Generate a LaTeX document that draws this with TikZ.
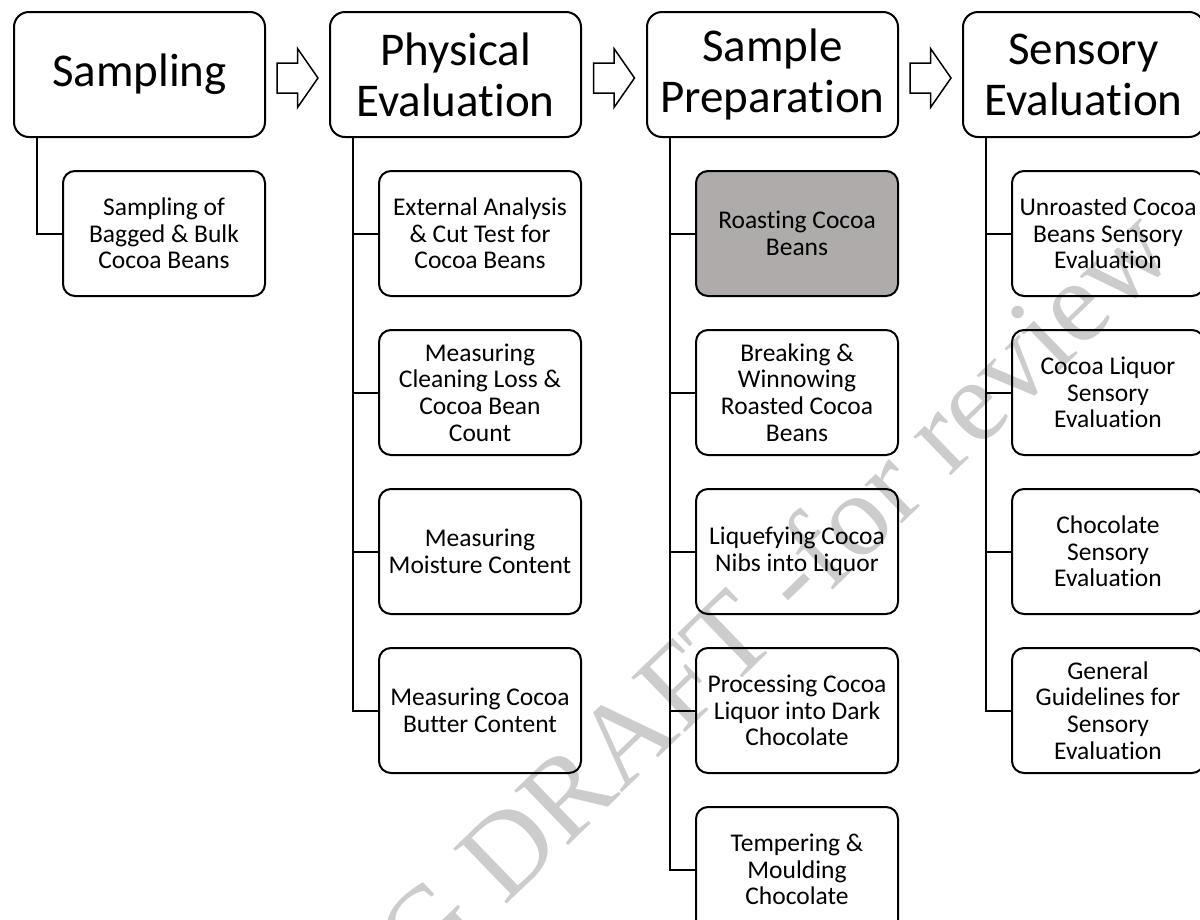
\documentclass[tikz,border=0pt]{standalone}
\usepackage{fontspec}
\setmainfont{Carlito}[Ligatures=NoCommon]
\newfontfamily\markfont{Liberation Serif}
\usetikzlibrary{calc, positioning}
\colorlet{linecolor}{black}
\definecolor{roastfill}{RGB}{175,171,171}
\tikzset{
  stage/.style={
    draw=linecolor,
    line width=2pt,
    rounded corners=15pt,
    minimum width=251pt,
    minimum height=125pt,
    inner sep=0pt,
    align=center,
    fill=white,
    font=\fontsize{47}{51}\selectfont
  },
  task/.style={
    draw=linecolor,
    line width=2pt,
    rounded corners=12pt,
    minimum width=202pt,
    minimum height=125pt,
    inner sep=0pt,
    align=center,
    fill=white,
    font=\fontsize{25.5}{26.7}\selectfont
  },
  highlight/.style={task, fill=roastfill},
  link/.style={draw=linecolor, line width=2pt},
  blockarr/.style={draw=linecolor, line width=1.5pt, fill=white, line join=miter},
  watermark/.style={
    font=\markfont\fontsize{117}{117}\selectfont,
    text=black,
    text opacity=0.2,
    rotate=44,
    anchor=base west,
    inner sep=0pt
  }
}

\begin{document}
\begin{tikzpicture}[x=1pt, y=-1pt, node distance=32pt and 63pt]
\useasboundingbox (0,0) rectangle (1200,919);

% stage headers
\node[stage] (samp) at (139.5,74.5) {Sampling};
\node[stage, right=63pt of samp] (phys) {Physical\\Evaluation};
\node[stage, right=64pt of phys] (prep) {Sample\\Preparation};
\node[stage, right=63pt of prep, minimum width=241pt] (sens) {Sensory\\Evaluation};

% sampling
\node[task, anchor=north west] (samp1) at ($(samp.south west)+(49,32)$) {Sampling of\\Bagged \& Bulk\\Cocoa Beans};

% physical evaluation
\node[task, anchor=north west] (phys1) at ($(phys.south west)+(49,32)$) {External Analysis\\\& Cut Test for\\Cocoa Beans};
\node[task, below=of phys1] (phys2) {Measuring\\Cleaning Loss \&\\Cocoa Bean\\Count};
\node[task, below=of phys2] (phys3) {Measuring\\Moisture Content};
\node[task, below=of phys3] (phys4) {Measuring Cocoa\\Butter Content};

% sample preparation
\node[highlight, anchor=north west] (prep1) at ($(prep.south west)+(49,32)$) {Roasting Cocoa\\Beans};
\node[task, below=of prep1] (prep2) {Breaking \&\\Winnowing\\Roasted Cocoa\\Beans};
\node[task, below=of prep2] (prep3) {Liquefying Cocoa\\Nibs into Liquor};
\node[task, below=of prep3] (prep4) {Processing Cocoa\\Liquor into Dark\\Chocolate};
\node[task, below=of prep4] (prep5) {Tempering \&\\Moulding\\Chocolate};

% sensory evaluation
\node[task, minimum width=192pt, anchor=north west] (sens1) at ($(sens.south west)+(49,32)$) {Unroasted Cocoa\\Beans Sensory\\Evaluation};
\node[task, minimum width=192pt, below=of sens1] (sens2) {Cocoa Liquor\\Sensory\\Evaluation};
\node[task, minimum width=192pt, below=of sens2] (sens3) {Chocolate\\Sensory\\Evaluation};
\node[task, minimum width=192pt, below=of sens3] (sens4) {General\\Guidelines for\\Sensory\\Evaluation};

% tree links
\foreach \h/\t in {samp/samp1, phys/phys1, phys/phys2, phys/phys3, phys/phys4,
                   prep/prep1, prep/prep2, prep/prep3, prep/prep4, prep/prep5,
                   sens/sens1, sens/sens2, sens/sens3, sens/sens4}
  \draw[link] ($(\h.south west)+(24,0)$) |- (\t.west);

% block arrows between stages
\foreach \a/\b in {samp/phys, phys/prep, prep/sens}
  \draw[blockarr] ($(\a.east)!.5!(\b.west)+(-20.5,-11.5)$) -- ++(20.5,0) -- ++(0,-14.5)
    -- ++(20.5,29.5) -- ++(-20.5,29.5) -- ++(0,-14.5) -- ++(-20.5,0) -- cycle;

\node[watermark] (mark) at (423,986) {G DRAFT -for review};

\end{tikzpicture}
\end{document}
